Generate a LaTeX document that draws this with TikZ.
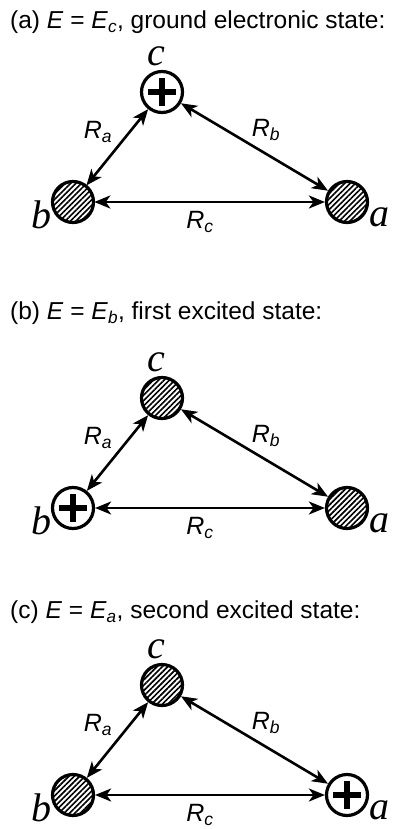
\documentclass[tikz,border=0pt]{standalone}
\usepackage{fontspec}
\setmainfont{Liberation Sans}
\newfontfamily\atomfont{Liberation Serif}
\usetikzlibrary{arrows.meta,positioning,patterns.meta}
\newcommand{\energy}[1]{\textit{E} = \textit{E}\textsubscript{\textit{#1}}}
\newcommand{\dist}[1]{\textit{R}\textsubscript{\textit{#1}}}

\begin{document}
\begin{tikzpicture}[
  x=1pt,y=-1pt,
  atom/.style={circle,draw,line width=3.2pt,minimum size=41pt,inner sep=0pt},
  neutral/.style={atom,pattern={Lines[angle=45,distance=3.8pt,line width=1.6pt]}},
  charged/.style={atom,fill=white,path picture={
      \fill[black] ([xshift=-14pt,yshift=-3pt]path picture bounding box.center) rectangle ([xshift=14pt,yshift=3pt]path picture bounding box.center);
      \fill[black] ([xshift=-3pt,yshift=-14pt]path picture bounding box.center) rectangle ([xshift=3pt,yshift=14pt]path picture bounding box.center);}},
  lbl/.style={font=\fontsize{40}{40}\selectfont\atomfont\itshape,inner sep=0pt},
  rlbl/.style={font=\fontsize{25}{26}\selectfont,inner sep=0pt},
  head/.style={font=\fontsize{24.5}{28}\selectfont,inner sep=0pt,anchor=west},
  arr/.style={{Stealth[length=16pt,width=13pt,inset=4.5pt]}-{Stealth[length=16pt,width=13pt,inset=4.5pt]},line width=2.6pt}
]
\useasboundingbox (0,0) rectangle (393,829);
% one panel per state: which atom carries the charge
\foreach \i/\y/\ty/\sa/\sb/\sc/\txt in {
  1/202/22/neutral/neutral/charged/{(a) \energy{c}, ground electronic state:},
  2/508/313/neutral/charged/neutral/{(b) \energy{b}, first excited state:},
  3/795/612/charged/neutral/neutral/{(c) \energy{a}, second excited state:}}{
  \node[head] (t\i) at (10,\ty) {\txt};
  \node[\sc] (c\i) at (162,\y-110) {};
  \node[\sb] (b\i) at (73,\y) {};
  \node[\sa] (a\i) at (347,\y) {};
  \node[lbl,above=4pt of c\i,xshift=-6pt] (lc\i) {c};
  \node[lbl,anchor=base east] (lb\i) at ([xshift=-21pt,yshift=-26pt]b\i.center) {b};
  \node[lbl,anchor=base west] (la\i) at ([xshift=22pt,yshift=-24pt]a\i.center) {a};
  \node[rlbl] (ra\i) at (98,\y-70) {\dist{a}};
  \node[rlbl] (rb\i) at (266,\y-72) {\dist{b}};
  \node[rlbl] (rc\i) at (200,\y+20) {\dist{c}};
  \draw[arr] (b\i) -- (c\i);
  \draw[arr] (c\i) -- (a\i);
  \draw[arr] (b\i) -- (a\i);
}
\end{tikzpicture}
\end{document}
